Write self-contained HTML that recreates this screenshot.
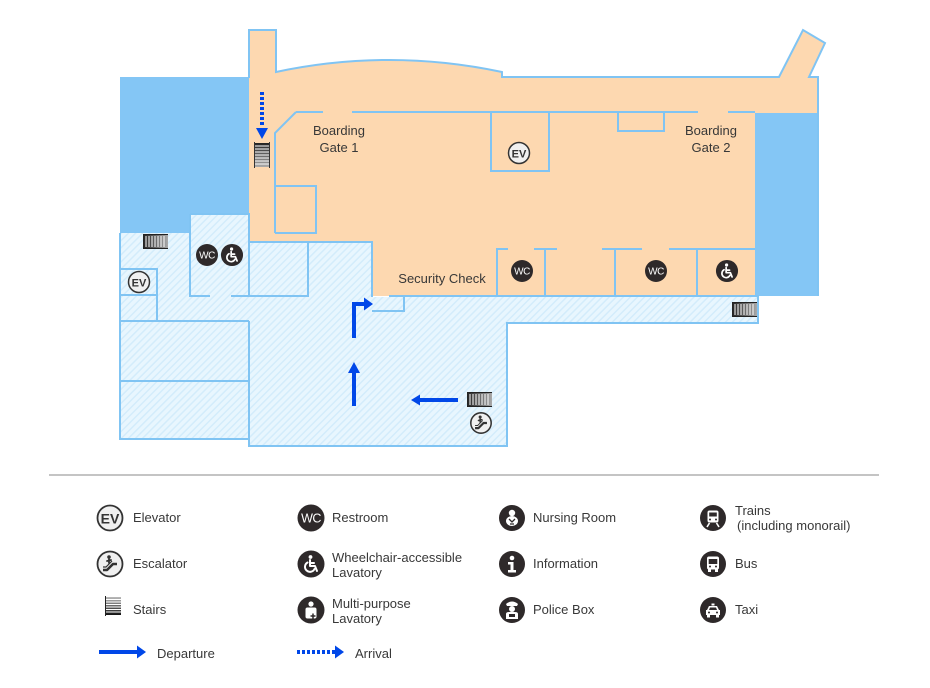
<!DOCTYPE html>
<html><head><meta charset="utf-8"><style>
html,body{margin:0;padding:0;background:#fff;}
svg{display:block;}
text{font-family:"Liberation Sans",sans-serif;}
</style></head><body>
<svg width="930" height="688" viewBox="0 0 930 688" xmlns="http://www.w3.org/2000/svg">
<defs>
<pattern id="hatch" width="5" height="5" patternUnits="userSpaceOnUse" patternTransform="rotate(45)"><rect width="5" height="5" fill="#e8f6fe"/><rect width="1.5" height="5" fill="#d3ecfb"/></pattern>
<linearGradient id="gv" x1="0" y1="0" x2="0" y2="1"><stop offset="0" stop-color="#222"/><stop offset="1" stop-color="#aaa"/></linearGradient>
<linearGradient id="gvr" x1="0" y1="0" x2="0" y2="1"><stop offset="0" stop-color="#bbb"/><stop offset="1" stop-color="#111"/></linearGradient>
<linearGradient id="gh" x1="0" y1="0" x2="1" y2="0"><stop offset="0" stop-color="#222"/><stop offset="1" stop-color="#aaa"/></linearGradient>
</defs>

<!-- solid blue panels -->
<rect x="120" y="77" width="130" height="157" fill="#84c6f5"/>
<rect x="755" y="112" width="63" height="184" fill="#84c6f5"/>

<!-- orange airside -->
<path d="M249,30 L276,30 L276,72 Q389,48 502,72 L502,77 L779,77 L803,30 L825,43 L809,77 L818,77 L818,113 L755,113 L755,296 L372,296 L372,242 L249,242 Z" fill="#fdd8b0"/>

<!-- light blue landside -->
<path d="M120,233 L190,233 L190,214 L249,214 L249,242 L372,242 L372,297 L758,297 L758,323 L507,323 L507,446 L249,446 L249,439 L120,439 Z" fill="url(#hatch)"/>

<!-- walls -->
<g fill="none" stroke="#80c4f3" stroke-width="2">
<path d="M249,78 L249,30 L276,30 L276,72 Q389,48 502,72 L502,77 L779,77 L803,30 L825,43 L809,77 L818,77 L818,296"/>
<path d="M296,112 L323,112 M352,112 L698,112 M728,112 L755,112"/>
<path d="M296,112 L275,133 L275,233"/>
<path d="M275,186 L316,186 L316,233 L275,233"/>
<path d="M491,112 L491,171 L549,171 L549,112"/>
<path d="M618,112 L618,131 L664,131 L664,112"/>
<path d="M497,296 L497,249 L508,249 M534,249 L557,249 M545,249 L545,296 M602,249 L642,249 M615,249 L615,296 M669,249 L755,249 M697,249 L697,296"/>
<path d="M249,242 L372,242 L372,297"/>
<path d="M389,296 L758,296 L758,323 L507,323 L507,446 L249,446 L249,321"/>
<path d="M372,311 L404,311 L404,296"/>
<path d="M190,214 L249,214 L249,296 M190,214 L190,296 L210,296 M231,296 L308,296 L308,242"/>
<path d="M120,233 L120,439 L249,439 M120,269 L157,269 L157,321 M120,295 L157,295 M120,321 L249,321 M120,381 L249,381"/>
</g>

<!-- labels -->
<g font-size="13" fill="#383838" text-anchor="middle">
<text x="339" y="135">Boarding</text>
<text x="339" y="152">Gate 1</text>
<text x="711" y="135">Boarding</text>
<text x="711" y="152">Gate 2</text>
<text x="442" y="283">Security Check</text>
</g>

<!-- EV icons map -->
<g>
<circle cx="519" cy="153" r="10.5" fill="#f0f0f0" stroke="#333" stroke-width="1.5"/>
<text x="519" y="157.5" font-size="11" font-weight="bold" fill="#333" text-anchor="middle">EV</text>
<circle cx="139" cy="282" r="10.5" fill="#f0f0f0" stroke="#333" stroke-width="1.5"/>
<text x="139" y="286.5" font-size="11" font-weight="bold" fill="#333" text-anchor="middle">EV</text>
</g>

<!-- WC icons map -->
<g font-size="10" fill="#fff" text-anchor="middle">
<circle cx="522" cy="271" r="11" fill="#2e292a"/><text x="522" y="274.5" letter-spacing="-0.5">WC</text>
<circle cx="656" cy="271" r="11" fill="#2e292a"/><text x="656" y="274.5" letter-spacing="-0.5">WC</text>
<circle cx="207" cy="255" r="11" fill="#2e292a"/><text x="207" y="258.5" letter-spacing="-0.5">WC</text>
</g>

<!-- wheelchair icons map -->
<g transform="translate(727,271) scale(0.85)">
<circle r="13" fill="#2e292a"/>
<g fill="none" stroke="#fff" stroke-width="2" stroke-linecap="round" stroke-linejoin="round">
<path d="M-1,-4 L-1,2 L4,2 L6,7"/><path d="M-1,-1 L3,-1"/><path d="M-3.5,-1.5 A5,5 0 1 0 3.5,5"/></g>
<circle cx="-0.5" cy="-7" r="1.9" fill="#fff"/>
</g>
<g transform="translate(232,255) scale(0.85)">
<circle r="13" fill="#2e292a"/>
<g fill="none" stroke="#fff" stroke-width="2" stroke-linecap="round" stroke-linejoin="round">
<path d="M-1,-4 L-1,2 L4,2 L6,7"/><path d="M-1,-1 L3,-1"/><path d="M-3.5,-1.5 A5,5 0 1 0 3.5,5"/></g>
<circle cx="-0.5" cy="-7" r="1.9" fill="#fff"/>
</g>

<!-- horizontal stairs (vertical bars) -->
<g>
<rect x="143" y="235" width="25" height="13" fill="url(#gh)"/>
<g stroke="#fff" stroke-width="1"><path d="M146,236 V247 M149,236 V247 M152,236 V247 M155,236 V247 M158,236 V247 M161,236 V247 M164,236 V247"/></g>
<path d="M143,234.5 H168 M143,248.5 H168" stroke="#222" stroke-width="1"/>
</g>
<g>
<rect x="732" y="303" width="25" height="13" fill="url(#gh)"/>
<g stroke="#fff" stroke-width="1"><path d="M735,304 V315 M738,304 V315 M741,304 V315 M744,304 V315 M747,304 V315 M750,304 V315 M753,304 V315"/></g>
<path d="M732,302.5 H757 M732,316.5 H757" stroke="#222" stroke-width="1"/>
</g>
<g>
<rect x="467" y="393" width="25" height="13" fill="url(#gh)"/>
<g stroke="#fff" stroke-width="1"><path d="M470,394 V405 M473,394 V405 M476,394 V405 M479,394 V405 M482,394 V405 M485,394 V405 M488,394 V405"/></g>
<path d="M467,392.5 H492 M467,406.5 H492" stroke="#222" stroke-width="1"/>
</g>

<!-- vertical stairs near arrival -->
<g>
<rect x="255" y="143" width="14" height="24" fill="url(#gv)"/>
<g stroke="#fff" stroke-width="1"><path d="M255,146 H269 M255,149 H269 M255,152 H269 M255,155 H269 M255,158 H269 M255,161 H269 M255,164 H269"/></g>
<path d="M254.5,142 V168 M269.5,142 V168" stroke="#333" stroke-width="1"/>
</g>

<!-- escalator map -->
<g transform="translate(481,423) scale(0.85)">
<circle r="12" fill="#f0f0f0" stroke="#333" stroke-width="1.8"/>
<path d="M-7,6 L-3,6 L3,0 L7,0" fill="none" stroke="#333" stroke-width="2.6" stroke-linejoin="round"/>
<path d="M-7,3 L-4,3 L2,-3" fill="none" stroke="#333" stroke-width="1.2"/>
<circle cx="-1" cy="-7" r="1.8" fill="#333"/>
<path d="M-1,-5 L-1,-1 M-3,-3 L1,-4" stroke="#333" stroke-width="1.8" stroke-linecap="round"/>
</g>

<!-- arrival arrow dotted -->
<g fill="#0047e8">
<rect x="260" y="92" width="4" height="3"/><rect x="260" y="97" width="4" height="3"/><rect x="260" y="102" width="4" height="3"/><rect x="260" y="107" width="4" height="3"/><rect x="260" y="112" width="4" height="3"/><rect x="260" y="117" width="4" height="3"/><rect x="260" y="122" width="4" height="3"/>
<polygon points="256,128 268,128 262,139"/>
</g>

<!-- departure arrows -->
<g fill="#0047e8">
<path d="M354,338 L354,304 L365,304" fill="none" stroke="#0047e8" stroke-width="4"/>
<polygon points="364,297.5 373,304 364,310.5"/>
<rect x="352" y="371" width="4" height="35"/>
<polygon points="348,373 354,362 360,373"/>
<rect x="419" y="398" width="39" height="4"/>
<polygon points="420,394.5 411,400 420,405.5"/>
</g>

<!-- separator -->
<line x1="49" y1="475" x2="879" y2="475" stroke="#a0a0a0" stroke-width="1.2"/>

<!-- legend icons col1 -->
<circle cx="110" cy="518" r="12.5" fill="#f0f0f0" stroke="#333" stroke-width="1.8"/>
<text x="110" y="523.5" font-size="14" font-weight="bold" fill="#333" text-anchor="middle">EV</text>
<g transform="translate(110,564)">
<circle r="12.5" fill="#f0f0f0" stroke="#333" stroke-width="1.8"/>
<path d="M-7,6 L-3,6 L3,0 L7,0" fill="none" stroke="#333" stroke-width="2.6" stroke-linejoin="round"/>
<path d="M-7,3 L-4,3 L2,-3" fill="none" stroke="#333" stroke-width="1.2"/>
<circle cx="-1" cy="-7" r="1.8" fill="#333"/>
<path d="M-1,-5 L-1,-1 M-3,-3 L1,-4" stroke="#333" stroke-width="1.8" stroke-linecap="round"/>
</g>
<g>
<rect x="106" y="597" width="15" height="18" fill="url(#gvr)"/>
<g stroke="#fff" stroke-width="1"><path d="M106,599.5 H121 M106,602 H121 M106,604.5 H121 M106,607 H121 M106,609.5 H121 M106,612 H121"/></g>
<path d="M105.5,596 V616" stroke="#222" stroke-width="1"/>
</g>
<path d="M99,652 L138,652" stroke="#0047e8" stroke-width="4"/>
<polygon points="137,645.5 146,652 137,658.5" fill="#0047e8"/>

<!-- legend col2 -->
<circle cx="311" cy="518" r="13.5" fill="#2e292a"/>
<text x="311" y="522.5" font-size="12.5" fill="#fff" text-anchor="middle" letter-spacing="-0.6">WC</text>
<g transform="translate(311,564)">
<circle r="13.5" fill="#2e292a"/>
<g fill="none" stroke="#fff" stroke-width="2" stroke-linecap="round" stroke-linejoin="round">
<path d="M-1,-4 L-1,2 L4,2 L6,7"/><path d="M-1,-1 L3,-1"/><path d="M-3.5,-1.5 A5,5 0 1 0 3.5,5"/></g>
<circle cx="-0.5" cy="-7" r="1.9" fill="#fff"/>
</g>
<g transform="translate(311,610)">
<circle r="13.5" fill="#2e292a"/>
<circle cx="0" cy="-6" r="2.6" fill="#fff"/>
<rect x="-5.5" y="-2.5" width="11" height="11" rx="2" fill="#fff"/>
<path d="M2,3.5 V8.5 M-0.5,6 H4.5" stroke="#2e292a" stroke-width="1.5"/>
</g>
<g fill="#0047e8">
<rect x="297" y="650" width="3" height="4"/><rect x="302" y="650" width="3" height="4"/><rect x="307" y="650" width="3" height="4"/><rect x="312" y="650" width="3" height="4"/><rect x="317" y="650" width="3" height="4"/><rect x="322" y="650" width="3" height="4"/><rect x="327" y="650" width="3" height="4"/><rect x="332" y="650" width="3" height="4"/>
<polygon points="335,645.5 344,652 335,658.5"/>
</g>

<!-- legend col3 -->
<g transform="translate(512,518)">
<circle r="13" fill="#2e292a"/>
<circle cx="0" cy="-5" r="3.2" fill="#fff"/>
<ellipse cx="0" cy="3" rx="6" ry="5" fill="#fff"/>
<path d="M-3,1 L0,4 L3,1 M-2,6 H2" stroke="#2e292a" stroke-width="1.3" fill="none"/>
</g>
<g transform="translate(512,564)">
<circle r="13" fill="#2e292a"/>
<circle cx="0" cy="-6" r="2.3" fill="#fff"/>
<path d="M-4,-2 H1.5 V6 H4 V8.5 H-4 V6 H-1.5 V0.5 H-4 Z" fill="#fff"/>
</g>
<g transform="translate(512,610)">
<circle r="13" fill="#2e292a"/>
<path d="M-6,-6 Q0,-11 6,-6 L5,-4 H-5 Z" fill="#fff"/>
<circle cx="0" cy="-1" r="3" fill="#fff"/>
<path d="M-6,9 V4 Q-6,2 -3,2 H3 Q6,2 6,4 V9 Z" fill="#fff"/>
<rect x="-3" y="4" width="6" height="3" fill="#2e292a"/>
</g>

<!-- legend col4 -->
<g transform="translate(713,518)">
<circle r="13" fill="#2e292a"/>
<rect x="-5.5" y="-7.5" width="11" height="12" rx="2" fill="#fff"/>
<rect x="-3.8" y="-5.5" width="7.6" height="4" fill="#2e292a"/>
<circle cx="-3" cy="1.5" r="1" fill="#2e292a"/><circle cx="3" cy="1.5" r="1" fill="#2e292a"/>
<path d="M-3.5,5 L-6,9 M3.5,5 L6,9" stroke="#fff" stroke-width="1.6"/>
</g>
<g transform="translate(713,564)">
<circle r="13" fill="#2e292a"/>
<rect x="-6" y="-7.5" width="12" height="13" rx="2" fill="#fff"/>
<rect x="-4.3" y="-5" width="8.6" height="5" fill="#2e292a"/>
<rect x="-5" y="5" width="3" height="3" fill="#fff"/><rect x="2" y="5" width="3" height="3" fill="#fff"/>
<circle cx="-3" cy="2.5" r="1" fill="#2e292a"/><circle cx="3" cy="2.5" r="1" fill="#2e292a"/>
</g>
<g transform="translate(713,610)">
<circle r="13" fill="#2e292a"/>
<path d="M-4,-4 H4 L6,0 H7 V5 H-7 V0 H-6 Z" fill="#fff"/>
<path d="M-3,-2.5 H3 L4,0 H-4 Z" fill="#2e292a"/>
<rect x="-6" y="5" width="3" height="2.5" fill="#fff"/><rect x="3" y="5" width="3" height="2.5" fill="#fff"/>
<circle cx="-4" cy="2.5" r="1" fill="#2e292a"/><circle cx="4" cy="2.5" r="1" fill="#2e292a"/>
<rect x="-1.5" y="-6.5" width="3" height="2" fill="#fff"/>
</g>

<!-- legend text -->
<g font-size="13" fill="#383838">
<text x="133" y="522">Elevator</text>
<text x="133" y="568">Escalator</text>
<text x="133" y="614">Stairs</text>
<text x="157" y="658">Departure</text>
<text x="332" y="522">Restroom</text>
<text x="332" y="562">Wheelchair-accessible</text>
<text x="332" y="577">Lavatory</text>
<text x="332" y="608">Multi-purpose</text>
<text x="332" y="623">Lavatory</text>
<text x="355" y="658">Arrival</text>
<text x="533" y="522">Nursing Room</text>
<text x="533" y="568">Information</text>
<text x="533" y="614">Police Box</text>
<text x="735" y="515">Trains</text>
<text x="737" y="530">(including monorail)</text>
<text x="735" y="568">Bus</text>
<text x="735" y="614">Taxi</text>
</g>
</svg>
</body></html>
